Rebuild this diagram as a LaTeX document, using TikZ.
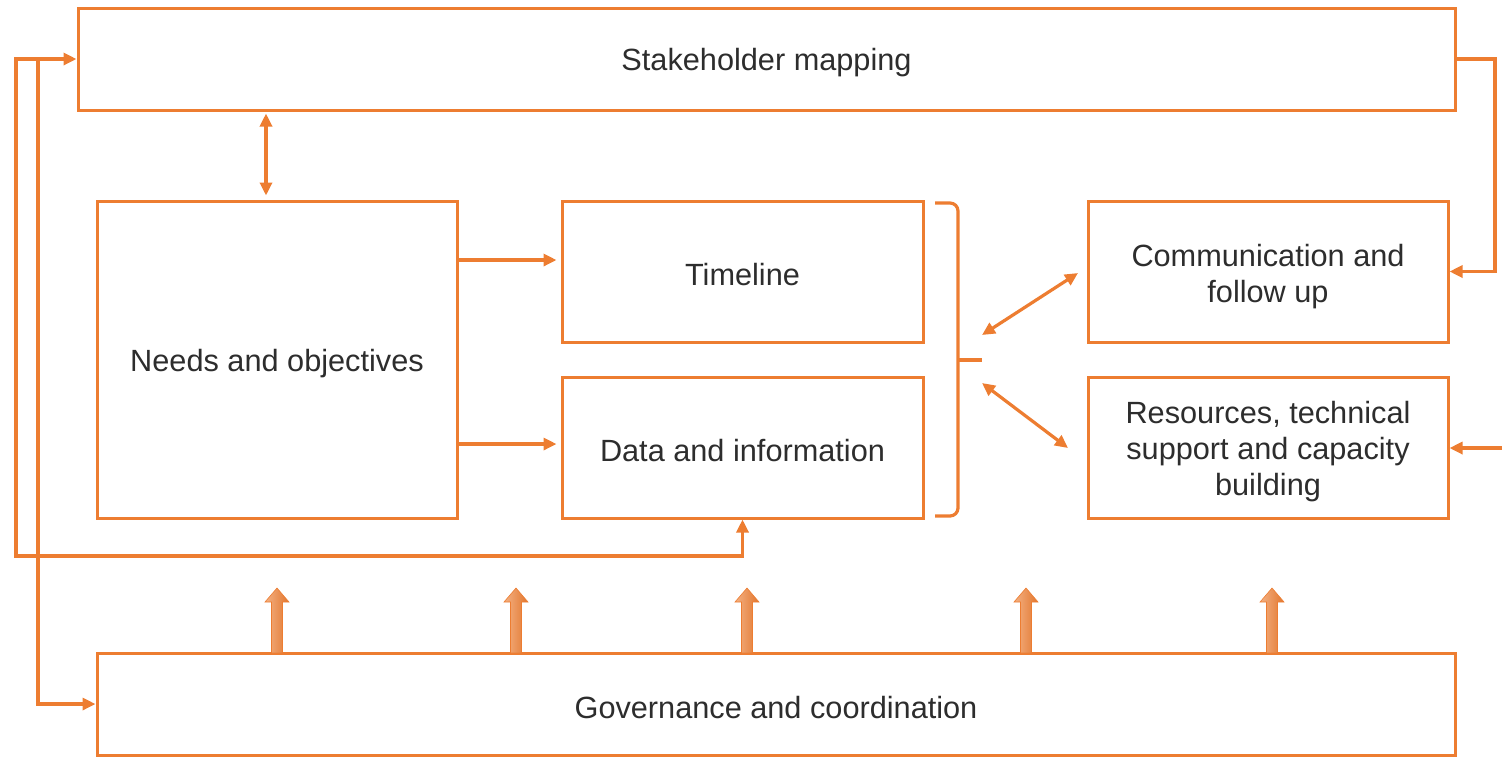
\documentclass[tikz,border=0pt]{standalone}
\usepackage{fontspec}
\setmainfont{Liberation Sans}
\usetikzlibrary{arrows.meta,calc}
\definecolor{org}{RGB}{237,125,49}
\definecolor{txt}{RGB}{45,45,45}
\begin{document}
\begin{tikzpicture}[x=0.5pt,y=-0.5pt,
  box/.style={draw=org,line width=1.5pt,fill=white,inner sep=0pt},
  lbl/.style={text=txt,align=center,inner sep=0pt,font=\fontsize{15.35}{18.2}\selectfont},
  conn/.style={draw=org,line width=1.6pt},
  arr/.style={conn,-{Triangle[length=6.5pt,width=6pt]}},
  dbl/.style={conn,{Triangle[length=6.5pt,width=6pt]}-{Triangle[length=6.5pt,width=6pt]}}]
\useasboundingbox (0,0) rectangle (1502,757);
% boxes
\node[box,minimum width=688.5pt,minimum height=51pt] (stake) at (766.5,59) {};
\node[box,minimum width=180pt,minimum height=158.5pt] (needs) at (277,359.5) {};
\node[box,minimum width=180.5pt,minimum height=70.5pt] (time) at (742.5,271.5) {};
\node[box,minimum width=180.5pt,minimum height=70.5pt] (data) at (742.5,447.5) {};
\node[box,minimum width=180pt,minimum height=70.5pt] (comm) at (1268,271.5) {};
\node[box,minimum width=180pt,minimum height=70.5pt] (res) at (1268,447.5) {};
\node[box,minimum width=679pt,minimum height=51pt] (gov) at (776,704) {};
% labels
\node[lbl] (staket) at ([yshift=-2pt]stake.center) {Stakeholder mapping};
\node[lbl] (needst) at ([yshift=-2pt]needs.center) {Needs and objectives};
\node[lbl] (timet) at ([yshift=-1.5pt]time.center) {Timeline};
\node[lbl] (datat) at ([yshift=-1.5pt]data.center) {Data and information};
\node[lbl] (commt) at ([yshift=-2.5pt]comm.center) {Communication and\\follow up};
\node[lbl] (rest) at ([yshift=-2pt]res.center) {Resources, technical\\support and capacity\\building};
\node[lbl] (govt) at ([yshift=-2pt]gov.center) {Governance and coordination};
% stakeholder <-> needs
\coordinate (nt) at ([xshift=-5.5pt]needs.north);
\draw[dbl,shorten <=2pt,shorten >=1pt] (nt) -- (nt |- stake.south);
% needs -> timeline / data
\coordinate (tw) at ([yshift=5.75pt]time.west);
\coordinate (dw) at ([yshift=1.75pt]data.west);
\draw[arr,shorten >=2pt] (needs.east |- tw) -- (tw);
\draw[arr,shorten >=2pt] (needs.east |- dw) -- (dw);
% left loops
\coordinate (lo) at (16,556);
\coordinate (ji) at (38,59);
\draw[dbl] (data.south) |- (lo) |- (stake.west);
\draw[arr] (ji) |- (gov.west);
% right side
\coordinate (ro) at (1495,59);
\coordinate (rr) at (1510,448);
\draw[arr] (stake.east) -- (ro) |- (comm.east);
\draw[arr] (rr) -- (res.east |- rr);
% brace
\coordinate (bt) at (982,360);
\draw[conn,rounded corners=4pt] (935,203) -- (958,203) -- (958,516) -- (935,516);
\draw[conn] (958,360) -- (bt);
\coordinate (b1) at (982,335);
\coordinate (c1) at (1078,273);
\coordinate (b2) at (982,383);
\coordinate (c2) at (1068,448);
\draw[dbl] (b1) -- (c1);
\draw[dbl] (b2) -- (c2);
% block arrows
\foreach \x in {277,516,747,1026,1272}{
  \shade[left color=org!60!white,right color=org!95!black,draw=org,line width=0.3pt]
    ({\x-5.5},653) -- ({\x-5.5},602) -- ({\x-12},602) -- (\x,588) -- ({\x+12},602) -- ({\x+5.5},602) -- ({\x+5.5},653) -- cycle;
}
\end{tikzpicture}
\end{document}
